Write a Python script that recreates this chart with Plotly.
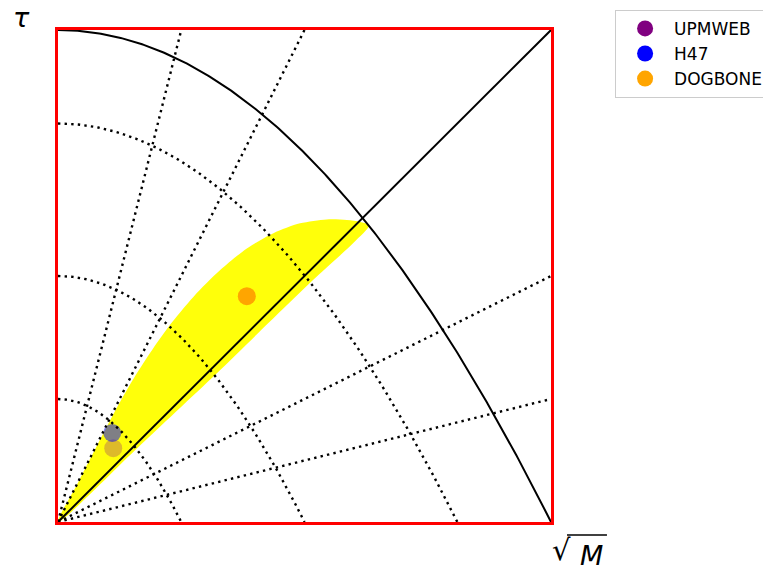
import numpy as np
import plotly.graph_objects as go

# ---- data ----
series_names = ["UPMWEB", "H47", "DOGBONE"]
series_colors = ["purple", "blue", "orange"]
series_x = [[0.112], [0.110], [0.383]]
series_y = [[0.150], [0.181], [0.459]]
series_fade = [0.27, 0.5, 1.0]

# yellow band boundary (upper edge, then lower edge back to origin)
band_upper_x = [0.0, 0.040, 0.080, 0.115, 0.150, 0.187, 0.225, 0.275, 0.329, 0.383, 0.437,
                0.491, 0.545, 0.586, 0.613, 0.631]
band_upper_y = [0.0, 0.079, 0.157, 0.224, 0.286, 0.344, 0.398, 0.458, 0.512, 0.556, 0.587,
                0.607, 0.615, 0.614, 0.610, 0.603]
band_lower_x = [0.600, 0.525, 0.454, 0.329, 0.170, 0.0]
band_lower_y = [0.568, 0.499, 0.431, 0.309, 0.159, 0.0]

# guide lines
guide_scales = [0.25, 0.5, 0.81]        # dotted arcs  y = s - x^2/s
guide_rays = [4.0, 2.0, 0.5, 0.25]      # dotted rays  y = k x
outer_scale = [1.0]                      # black arc    y = 1 - x^2
diag_slope = [1.0]

fig = go.Figure()

fig.add_trace(go.Scatter(
    x=band_upper_x + band_lower_x, y=band_upper_y + band_lower_y,
    mode="lines", fill="toself", fillcolor="rgb(255,255,10)",
    line=dict(width=0, shape="spline", smoothing=0.8), showlegend=False, hoverinfo="skip"))

for name, col, xs, ys, fade in zip(series_names, series_colors, series_x, series_y, series_fade):
    kw = {}
    if fade < 1:
        kw = dict(selectedpoints=[], unselected=dict(marker=dict(opacity=fade)))
    fig.add_trace(go.Scatter(x=xs, y=ys, mode="markers", name=name,
                             marker=dict(color=col, size=18, line=dict(width=0)), **kw))

dot = dict(color="black", width=2.4, dash="2.4px,4.2px")
for s in guide_scales:
    xx = np.linspace(0, s, 200)
    fig.add_trace(go.Scatter(x=xx, y=s - xx**2 / s, mode="lines", line=dot,
                             showlegend=False, hoverinfo="skip"))
for k in guide_rays:
    xe = min(1.0, 1.0 / k)
    fig.add_trace(go.Scatter(x=[0, xe], y=[0, k * xe], mode="lines", line=dot,
                             showlegend=False, hoverinfo="skip"))
for s in outer_scale:
    xx = np.linspace(0, s, 300)
    fig.add_trace(go.Scatter(x=xx, y=s - xx**2 / s, mode="lines",
                             line=dict(color="black", width=2), showlegend=False, hoverinfo="skip"))
for k in diag_slope:
    fig.add_trace(go.Scatter(x=[0, 1], y=[0, k], mode="lines",
                             line=dict(color="black", width=2), showlegend=False, hoverinfo="skip"))

axis = dict(range=[0, 1], showgrid=False, zeroline=False, showticklabels=False, ticks="",
            showline=True, linecolor="red", linewidth=3, mirror=True)
fig.update_xaxes(**axis)
fig.update_yaxes(**axis)

# axis labels: tau (top-left) and sqrt(M) (bottom-right)
fig.add_annotation(text="<i>τ</i>", xref="paper", yref="paper", x=-0.074, y=1.059,
                   xanchor="center", yanchor="top", showarrow=False, borderpad=0,
                   font=dict(size=27, color="black", family="DejaVu Sans"))
fig.add_annotation(text="√", xref="paper", yref="paper", x=1.021, y=-0.056,
                   xanchor="center", yanchor="middle", showarrow=False,
                   font=dict(size=29, color="black", family="DejaVu Sans"))
fig.add_annotation(text="<i>M</i>", xref="paper", yref="paper", x=1.083, y=-0.068,
                   xanchor="center", yanchor="middle", showarrow=False,
                   font=dict(size=27, color="black", family="DejaVu Sans"))
fig.add_shape(type="line", xref="paper", yref="paper", x0=1.0325, x1=1.1135, y0=-0.0264, y1=-0.0264,
              line=dict(color="black", width=1.5))

fig.update_layout(
    width=763, height=574,
    margin=dict(l=58, r=212, t=30, b=52, autoexpand=False),
    plot_bgcolor="white", paper_bgcolor="white",
    font=dict(family="DejaVu Sans", size=17, color="black"),
    legend=dict(x=1.13, y=1.041, xanchor="left", yanchor="top", bgcolor="white",
                bordercolor="#cccccc", borderwidth=1, itemsizing="trace", itemwidth=48,
                font=dict(size=17)),
)

fig.write_html("out.html", config={"displayModeBar": False},
               post_script="document.body.style.margin='0';")
